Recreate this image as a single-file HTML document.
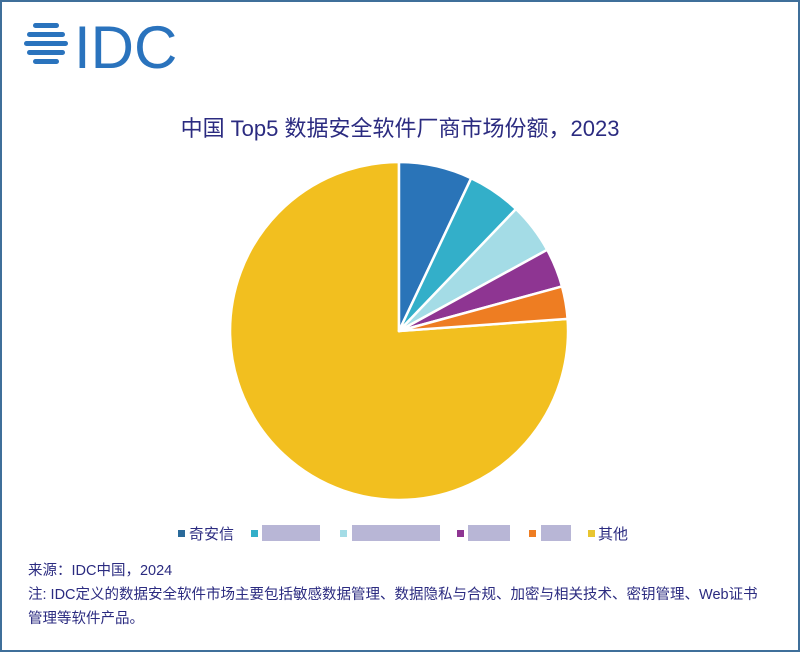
<!DOCTYPE html>
<html><head><meta charset="utf-8"><style>
body{margin:0;width:800px;height:652px;overflow:hidden;background:#fff;font-family:"Liberation Sans","Noto Sans CJK SC",sans-serif}
.frame{position:absolute;left:0;top:0;width:796px;height:648px;border:2px solid #3f6f9a}
.t{position:absolute;color:#2b2b80;white-space:nowrap}
.sq{position:absolute;width:7px;height:7px;top:530px}
.bl{position:absolute;height:16px;top:525px;background:#b8b6d6}
</style></head><body>
<div class="frame"></div>
<svg style="position:absolute;left:0;top:0" width="800" height="652">
<g fill="#2a73bd">
<rect x="33" y="23" width="26" height="5" rx="2.5"/>
<rect x="27" y="32" width="38" height="5" rx="2.5"/>
<rect x="24" y="41" width="44" height="5" rx="2.5"/>
<rect x="27" y="50" width="38" height="5" rx="2.5"/>
<rect x="33" y="59" width="26" height="5" rx="2.5"/>
</g>
<text x="74" y="68" font-family="Liberation Sans" font-size="60" fill="#2a73bd" letter-spacing="0">IDC</text>
<g stroke="#fff" stroke-width="2.5" stroke-linejoin="round">
<path d="M399,331 L567.6,318.9 A169,169 0 1 1 399,162 Z" fill="#f2bf1f"/>
<path d="M399,331 L399,162 A169,169 0 0 1 471.2,178.2 Z" fill="#2a74b8"/>
<path d="M399,331 L471.2,178.2 A169,169 0 0 1 516,209 Z" fill="#33afc9"/>
<path d="M399,331 L516,209 A169,169 0 0 1 547.2,249.8 Z" fill="#a4dce6"/>
<path d="M399,331 L547.2,249.8 A169,169 0 0 1 562,286.4 Z" fill="#8e3592"/>
<path d="M399,331 L562,286.4 A169,169 0 0 1 567.6,318.9 Z" fill="#ee7d22"/>
</g>
</svg>
<div class="t" style="left:0;width:800px;text-align:center;top:111px;font-size:22px">中国 Top5 数据安全软件厂商市场份额，2023</div>
<div class="sq" style="left:178px;background:#2a6a9a"></div><div class="t" style="left:189px;top:523px;font-size:15px">奇安信</div>
<div class="sq" style="left:251px;background:#33afc9"></div><div class="bl" style="left:262px;width:58px"></div>
<div class="sq" style="left:340px;background:#a4dce6"></div><div class="bl" style="left:352px;width:88px"></div>
<div class="sq" style="left:457px;background:#8e3592"></div><div class="bl" style="left:468px;width:42px"></div>
<div class="sq" style="left:529px;background:#ee7d22"></div><div class="bl" style="left:541px;width:30px"></div>
<div class="sq" style="left:588px;background:#e8c530"></div><div class="t" style="left:598px;top:523px;font-size:15px">其他</div>
<div class="t" style="left:28px;top:559px;font-size:14.5px">来源：IDC中国，2024</div>
<div class="t" style="left:28px;top:583px;font-size:14.5px">注: IDC定义的数据安全软件市场主要包括敏感数据管理、数据隐私与合规、加密与相关技术、密钥管理、Web证书</div>
<div class="t" style="left:28px;top:607px;font-size:14.5px">管理等软件产品。</div>
</body></html>
